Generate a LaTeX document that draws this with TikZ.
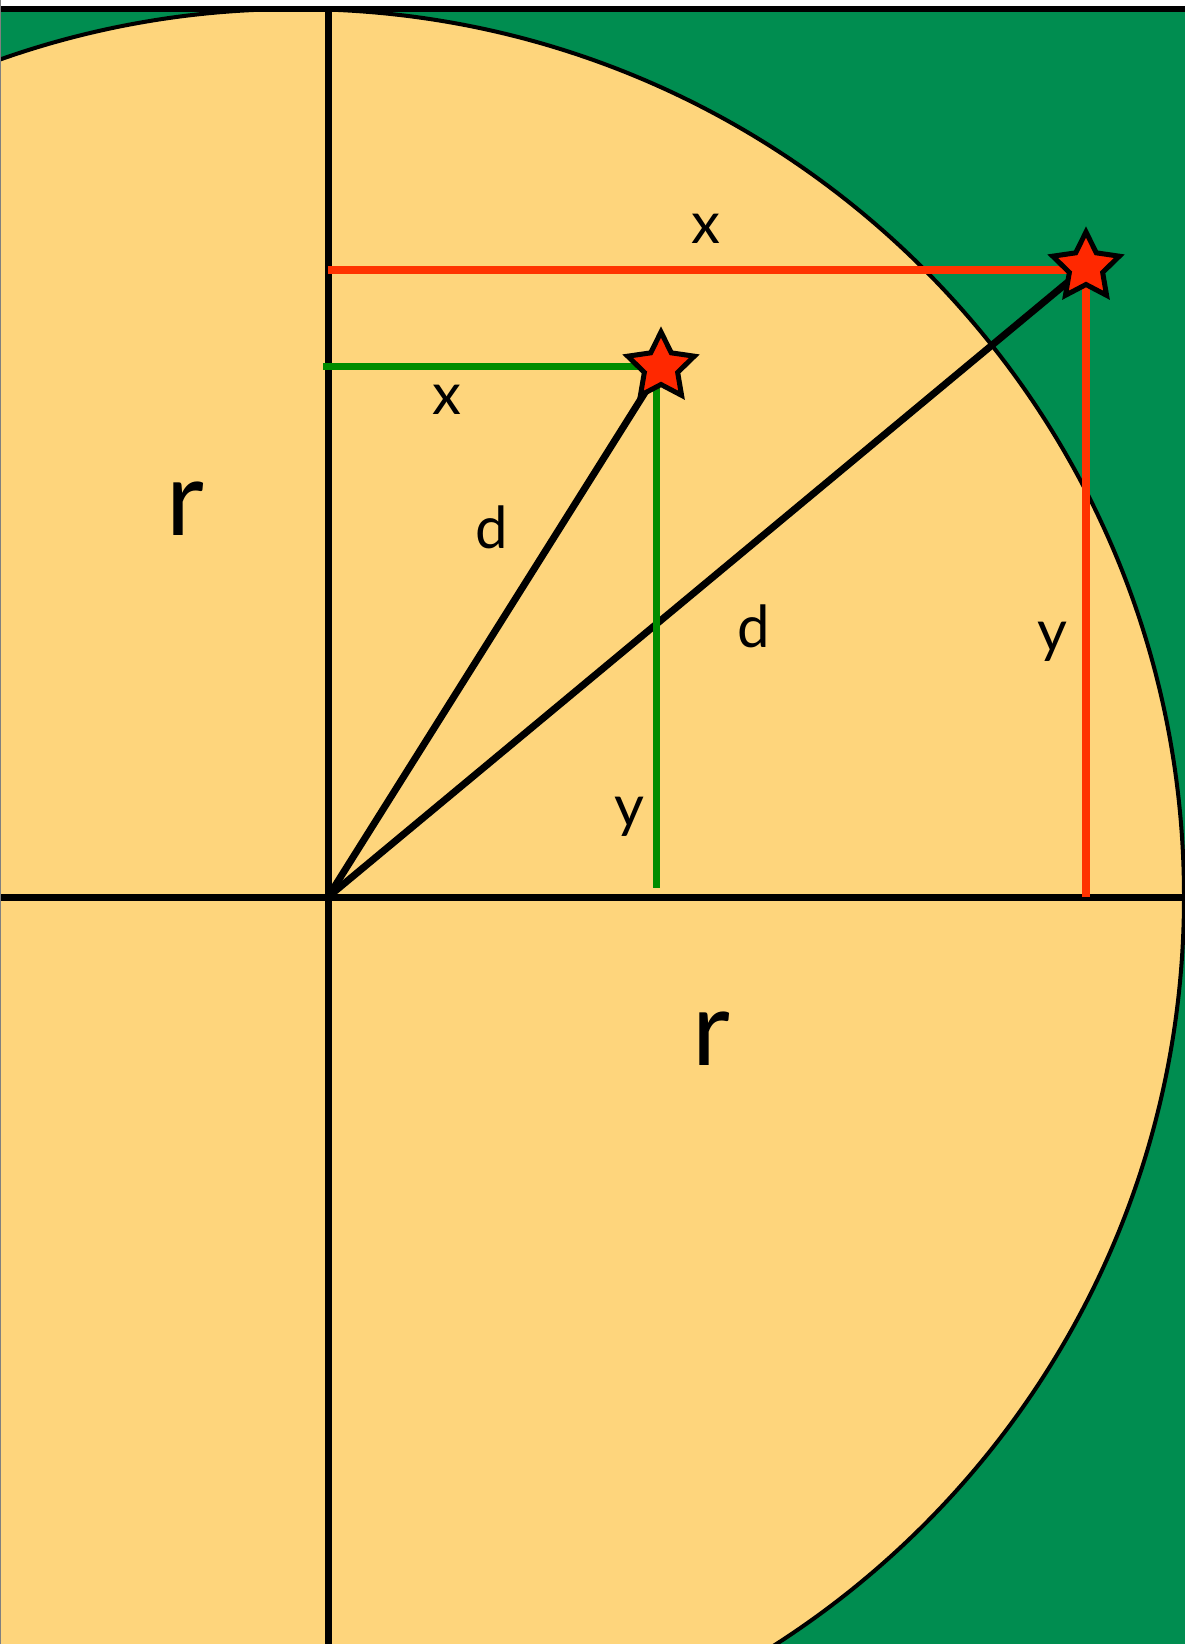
\documentclass[tikz,border=0pt]{standalone}
\usepackage{fontspec}
\setmainfont{Lato}
\usetikzlibrary{shapes.geometric}
\definecolor{bggreen}{RGB}{0,141,80}
\definecolor{sand}{RGB}{254,213,124}
\definecolor{starred}{RGB}{255,40,0}
\definecolor{redl}{RGB}{255,51,0}
\definecolor{greenl}{RGB}{0,140,0}
\begin{document}
\begin{tikzpicture}[x=1pt,y=-1pt,
  axisline/.style={draw=black,line width=7pt},
  dline/.style={draw=black,line width=7pt},
  redline/.style={draw=redl,line width=8pt},
  greenline/.style={draw=greenl,line width=7pt},
  starnode/.style={star,star points=5,star point ratio=2.0,minimum size=70pt,inner sep=0pt,fill=starred,draw=black,line width=5pt},
  smalllab/.style={inner sep=0pt,font=\fontsize{58}{60}\selectfont},
  biglab/.style={inner sep=0pt,font=\fontsize{104}{110}\selectfont}]
\useasboundingbox (0,0) rectangle (1185,1644);
\fill[white] (0,0) rectangle (1185,1644);
\begin{scope}
  \clip (0,0) rectangle (1185,1644);
  \fill[bggreen] (0,9) rectangle (1185,1644);
  \filldraw[fill=sand,draw=black,line width=4pt] (296,897) circle[radius=888pt];
  % coordinates
  \coordinate (O) at (328,897);
  \coordinate (axL) at (0,897);
  \coordinate (axR) at (1185,897);
  \coordinate (axT) at (328,9);
  \coordinate (axB) at (328,1644);
  \coordinate (topL) at (0,9);
  \coordinate (topR) at (1185,9);
  \coordinate (rh) at (328,270);
  \coordinate (rhe) at (1086,270);
  \coordinate (rv) at (1086,897);
  \coordinate (gh) at (323,366);
  \coordinate (ghe) at (661,366);
  \coordinate (gt) at (656,367);
  \coordinate (gb) at (656,888);
  \coordinate (S1c) at (661,367);
  \coordinate (S2c) at (1086,267);
  % axes
  \draw[axisline] (axL) -- (axR);
  \draw[axisline] (axT) -- (axB);
  \draw[black,line width=6pt] (topL) -- (topR);
  % d lines
  \draw[dline] (O) -- (S1c);
  \draw[dline] (O) -- (S2c);
  % coloured lines
  \draw[redline] (rh) -- (rhe);
  \draw[redline] (S2c) -- (rv);
  \draw[greenline] (gh) -- (ghe);
  \draw[greenline] (gt) -- (gb);
  % stars
  \node[starnode] (S1) at (S1c) {};
  \node[starnode] (S2) at (S2c) {};
  % labels
  \node[smalllab] (xtop) at (706,229) {x};
  \node[smalllab] (xsmall) at (447,400) {x};
  \node[smalllab] (d1) at (492,527) {d};
  \node[smalllab] (d2) at (754,626) {d};
  \node[smalllab] (ysmall) at (629,817) {y};
  \node[smalllab] (ybig) at (1052,642) {y};
  \node[biglab] (r1) at (185,509) {r};
  \node[biglab] (r2) at (711,1039) {r};
  \draw[gray,line width=1.5pt] (0,0) -- (0,1644);
\end{scope}
\end{tikzpicture}
\end{document}
